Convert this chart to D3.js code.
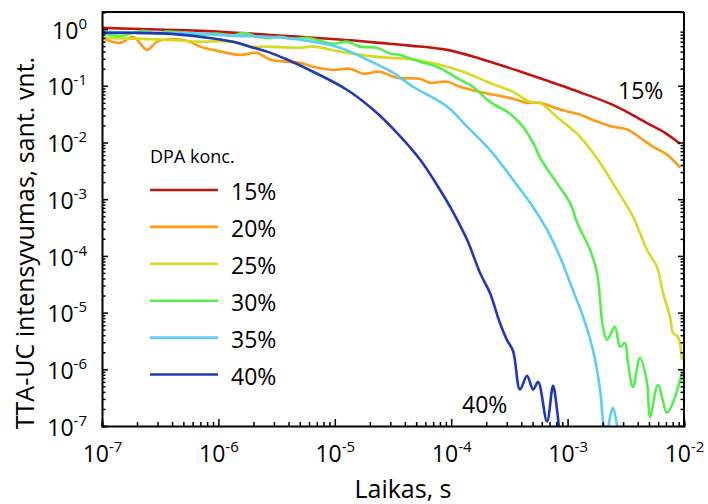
<!DOCTYPE html>
<html>
<head>
<meta charset="utf-8">
<script src="https://cdn.jsdelivr.net/npm/d3@7"></script>
<style>
  body { margin: 0; background: #fff; }
  text { font-family: "Open Sans", "DejaVu Sans", sans-serif; fill: #000; }
</style>
</head>
<body>
<div id="chart"></div>
<script>
var width = 708;
var height = 504;

// DPA concentration series, time (s) vs TTA-UC intensity (rel. units)
var seriesNames = ['15%', '20%', '25%', '30%', '35%', '40%'];
var seriesColors = ['#c0140e', '#ff9a14', '#d4dc22', '#55ee4f', '#5ccdf8', '#2038b8'];

var t15 = [1.0e-7, 2.58e-7, 6.95e-7, 1.87e-6, 5.02e-6, 1.35e-5, 2.44e-5, 4.43e-5, 9.2e-5, 1.77e-4, 3.90e-4, 7.06e-4, 1.11e-3, 2.45e-3, 4.81e-3, 6.87e-3, 9.25e-3];
var i15 = [1.05, 0.99, 0.93, 0.83, 0.73, 0.635, 0.57, 0.51, 0.43, 0.30, 0.179, 0.118, 0.085, 0.046, 0.022, 0.0148, 0.0095];

var t20 = [1.0e-7, 1.43e-7, 1.85e-7, 2.44e-7, 2.97e-7, 4.07e-7, 5.70e-7, 6.95e-7, 9.0e-7, 1.53e-6, 2.15e-6, 2.77e-6, 3.88e-6, 5.02e-6, 6.50e-6, 9.66e-6, 1.35e-5, 1.75e-5, 2.44e-5, 3.42e-5, 5.40e-5, 6.58e-5, 9.2e-5, 1.19e-4, 1.77e-4, 3.40e-4, 4.48e-4, 5.79e-4, 8.61e-4, 1.28e-3, 1.65e-3, 2.45e-3, 3.24e-3, 4.19e-3, 5.42e-3, 7.14e-3, 9.25e-3];
var i20 = [0.70, 0.57, 0.73, 0.43, 0.60, 0.67, 0.60, 0.49, 0.43, 0.35, 0.38, 0.29, 0.265, 0.255, 0.216, 0.19, 0.20, 0.163, 0.177, 0.138, 0.133, 0.113, 0.118, 0.096, 0.078, 0.059, 0.050, 0.050, 0.038, 0.031, 0.025, 0.019, 0.017, 0.0121, 0.0084, 0.0061, 0.0036];

var t25 = [1.0e-7, 3.61e-7, 6.95e-7, 1.33e-6, 1.87e-6, 2.62e-6, 5.02e-6, 6.50e-6, 1.27e-5, 2.44e-5, 4.70e-5, 8.0e-5, 1.26e-4, 2.03e-4, 3.40e-4, 4.75e-4, 5.79e-4, 8.11e-4, 1.28e-3, 1.90e-3, 2.45e-3, 3.65e-3, 4.81e-3, 5.86e-3, 6.61e-3, 7.59e-3, 8.05e-3, 8.87e-3, 9.62e-3];
var i25 = [0.70, 0.65, 0.60, 0.60, 0.49, 0.49, 0.47, 0.49, 0.38, 0.32, 0.29, 0.235, 0.177, 0.118, 0.078, 0.052, 0.050, 0.028, 0.0126, 0.0044, 0.0019, 0.00049, 0.000128, 6.4e-5, 2.23e-5, 8.4e-6, 4.4e-6, 3.7e-6, 1.47e-6];

var t30 = [1.0e-7, 1.43e-7, 2.25e-7, 2.97e-7, 3.61e-7, 4.97e-7, 6.95e-7, 9.7e-7, 1.33e-6, 1.63e-6, 2.15e-6, 2.62e-6, 3.38e-6, 4.38e-6, 5.77e-6, 7.46e-6, 9.66e-6, 1.27e-5, 1.64e-5, 2.31e-5, 2.98e-5, 3.63e-5, 5.40e-5, 7.55e-5, 1.19e-4, 1.54e-4, 2.15e-4, 3.01e-4, 3.90e-4, 5.05e-4, 5.79e-4, 7.50e-4, 1.05e-3, 1.21e-3, 1.56e-3, 1.79e-3, 1.90e-3, 2.01e-3, 2.18e-3, 2.55e-3, 2.82e-3, 3.11e-3, 3.30e-3, 3.65e-3, 4.19e-3, 4.81e-3, 5.11e-3, 5.98e-3, 7.14e-3, 8.05e-3, 9.62e-3];
var i30 = [0.86, 0.76, 0.93, 0.83, 0.90, 0.86, 0.79, 0.83, 0.76, 0.86, 0.73, 0.70, 0.73, 0.67, 0.70, 0.62, 0.55, 0.60, 0.49, 0.47, 0.37, 0.35, 0.265, 0.216, 0.128, 0.096, 0.052, 0.035, 0.022, 0.0099, 0.0054, 0.0024, 0.00086, 0.00038, 0.000128, 5.0e-5, 1.68e-5, 5.6e-6, 3.3e-6, 5.6e-6, 2.5e-6, 2.9e-6, 1.3e-6, 4.9e-7, 1.6e-6, 5.8e-7, 1.45e-7, 5.3e-7, 1.71e-7, 2.6e-7, 8.7e-7];

var t35 = [1.0e-7, 1.85e-7, 3.61e-7, 6.95e-7, 1.33e-6, 2.62e-6, 5.02e-6, 9.66e-6, 1.35e-5, 1.89e-5, 2.44e-5, 3.16e-5, 4.70e-5, 9.2e-5, 1.37e-4, 2.15e-4, 3.40e-4, 5.05e-4, 6.65e-4, 8.61e-4, 1.11e-3, 1.36e-3, 1.65e-3, 1.90e-3, 2.01e-3, 2.14e-3, 2.31e-3, 2.45e-3, 2.61e-3, 2.77e-3];
var i35 = [0.90, 0.86, 0.86, 0.83, 0.76, 0.73, 0.65, 0.51, 0.40, 0.29, 0.225, 0.17, 0.096, 0.043, 0.019, 0.0074, 0.0022, 0.00073, 0.00029, 9.6e-5, 2.5e-5, 8.4e-6, 2.2e-6, 4.4e-7, 1.29e-7, 4.7e-8, 1.4e-7, 2.1e-7, 1.29e-7, 3.8e-8];

var t40 = [1.0e-7, 1.85e-7, 3.61e-7, 6.95e-7, 1.33e-6, 1.87e-6, 2.62e-6, 3.88e-6, 6.50e-6, 1.27e-5, 2.13e-5, 3.42e-5, 5.40e-5, 8.0e-5, 1.035e-4, 1.37e-4, 1.77e-4, 2.15e-4, 2.62e-4, 3.01e-4, 3.40e-4, 3.90e-4, 4.48e-4, 5.05e-4, 5.58e-4, 6.65e-4, 7.50e-4, 8.11e-4, 8.61e-4];
var i40 = [0.86, 0.86, 0.83, 0.73, 0.60, 0.49, 0.40, 0.29, 0.177, 0.085, 0.038, 0.0148, 0.0050, 0.00147, 0.00060, 0.000192, 5.0e-5, 2.23e-5, 6.6e-6, 3.3e-6, 2.1e-6, 4.4e-7, 7.7e-7, 4.4e-7, 6.0e-7, 1.2e-7, 5.1e-7, 1.93e-7, 5.7e-8];

var xMajors = [1e-7, 1e-6, 1e-5, 1e-4, 1e-3, 1e-2];
var yMajors = [1e-7, 1e-6, 1e-5, 1e-4, 1e-3, 1e-2, 1e-1, 1e0];

var times = [t15, t20, t25, t30, t35, t40];
var intens = [i15, i20, i25, i30, i35, i40];

// plot box
var margin = { top: 12, right: 24, bottom: 78, left: 102 };
var chartWidth = width - margin.left - margin.right;   // 582
var chartHeight = height - margin.top - margin.bottom; // 414

var svg = d3.select('#chart').append('svg')
    .attr('width', width)
    .attr('height', height);

var g = svg.append('g')
    .attr('transform', `translate(${margin.left}, ${margin.top})`);

var xScale = d3.scaleLog().domain([1e-7, 1e-2]).range([0, chartWidth]);
var yScale = d3.scaleLog().domain([1e-7, 2]).range([chartHeight, 0]);

function minorsOf(majors) {
    var out = [];
    majors.slice(0, -1).forEach(function (d) {
        for (var k = 2; k <= 9; k++) out.push(k * d);
    });
    return out;
}
var xMinors = minorsOf(xMajors);
var yMinors = minorsOf(yMajors.concat([1e1])).filter(d => d <= 2);

g.append('clipPath').attr('id', 'plotclip')
    .append('rect').attr('width', chartWidth).attr('height', chartHeight);

// curves
var line = d3.line()
    .x(d => xScale(d[0]))
    .y(d => yScale(d[1]))
    .curve(d3.curveCatmullRom.alpha(0.5));

var linesG = g.append('g').attr('clip-path', 'url(#plotclip)');
seriesNames.forEach(function (name, i) {
    var pts = times[i].map((t, j) => [t, intens[i][j]]);
    linesG.append('path')
        .datum(pts)
        .attr('d', line)
        .attr('fill', 'none')
        .attr('stroke', seriesColors[i])
        .attr('stroke-width', 2.6)
        .attr('stroke-linejoin', 'round');
});

// frame: top and right lines
g.append('line').attr('x1', 0).attr('x2', chartWidth).attr('y1', 0).attr('y2', 0)
    .attr('stroke', '#000').attr('stroke-width', 2);
g.append('line').attr('x1', chartWidth).attr('x2', chartWidth).attr('y1', 0).attr('y2', chartHeight)
    .attr('stroke', '#000').attr('stroke-width', 2);

function supLabel(sel, anchor) {
    sel.each(function (d) {
        var exp = Math.round(Math.log10(d));
        var t = d3.select(this);
        t.text(null).attr('text-anchor', anchor);
        t.append('tspan').text('10');
        t.append('tspan').attr('font-size', 15).attr('dy', -10).text(exp);
    });
}

// x axis
var xAxisG = g.append('g').attr('transform', `translate(0, ${chartHeight})`);
xAxisG.call(d3.axisBottom(xScale).tickValues(xMinors).tickSize(-4).tickFormat(''));
xAxisG.selectAll('.tick text').remove();
var xMajorG = xAxisG.append('g')
    .call(d3.axisBottom(xScale).tickValues(xMajors).tickSize(-7).tickFormat(d => d))
    .call(a => a.select('.domain').remove());
xAxisG.selectAll('.domain').attr('stroke-width', 2);
xAxisG.selectAll('.tick line').attr('stroke-width', 1.5);
xMajorG.selectAll('.tick text')
    .attr('y', 36).attr('dy', 0)
    .attr('font-size', 23)
    .call(supLabel, 'middle');

// y axis
var yAxisG = g.append('g');
yAxisG.call(d3.axisLeft(yScale).tickValues(yMinors).tickSize(-3.5).tickFormat(''));
yAxisG.selectAll('.tick text').remove();
var yMajorG = yAxisG.append('g')
    .call(d3.axisLeft(yScale).tickValues(yMajors).tickSize(-6).tickFormat(d => d))
    .call(a => a.select('.domain').remove());
yAxisG.selectAll('.domain').attr('stroke-width', 2);
yAxisG.selectAll('.tick line').attr('stroke-width', 1.5);
yMajorG.selectAll('.tick text')
    .attr('x', -15).attr('dy', '0.4em')
    .attr('font-size', 23)
    .call(supLabel, 'end');

// right side mirror ticks
var rightG = g.append('g').attr('transform', `translate(${chartWidth}, 0)`);
rightG.call(d3.axisRight(yScale).tickValues(yMinors).tickSize(-3.5).tickFormat(''));
rightG.append('g').call(d3.axisRight(yScale).tickValues(yMajors.filter(d => d < 1)).tickSize(-6).tickFormat(''));
rightG.selectAll('.domain').remove();
rightG.selectAll('.tick text').remove();
rightG.selectAll('.tick line').attr('stroke-width', 1.5);

// axis titles
svg.append('text')
    .attr('x', 403).attr('y', 498)
    .attr('text-anchor', 'middle')
    .attr('font-size', 25)
    .text('Laikas, s');

svg.append('text')
    .attr('transform', 'translate(34, 243) rotate(-90)')
    .attr('text-anchor', 'middle')
    .attr('font-size', 25)
    .text('TTA-UC intensyvumas, sant. vnt.');

// legend
var legend = svg.append('g').attr('transform', 'translate(150, 190)');
legend.append('text')
    .attr('x', 0).attr('y', -27)
    .attr('font-size', 18)
    .text('DPA konc.');
seriesNames.forEach(function (name, i) {
    var row = legend.append('g').attr('transform', `translate(0, ${i * 36.9})`);
    row.append('line')
        .attr('x1', 0).attr('x2', 68)
        .attr('stroke', seriesColors[i])
        .attr('stroke-width', 2.6);
    row.append('text')
        .attr('x', 81).attr('y', 10)
        .attr('font-size', 23)
        .text(name);
});

// in-plot annotations
svg.append('text').attr('x', 618).attr('y', 99).attr('font-size', 23).text('15%');
svg.append('text').attr('x', 462).attr('y', 413).attr('font-size', 23).text('40%');
</script>
</body>
</html>
